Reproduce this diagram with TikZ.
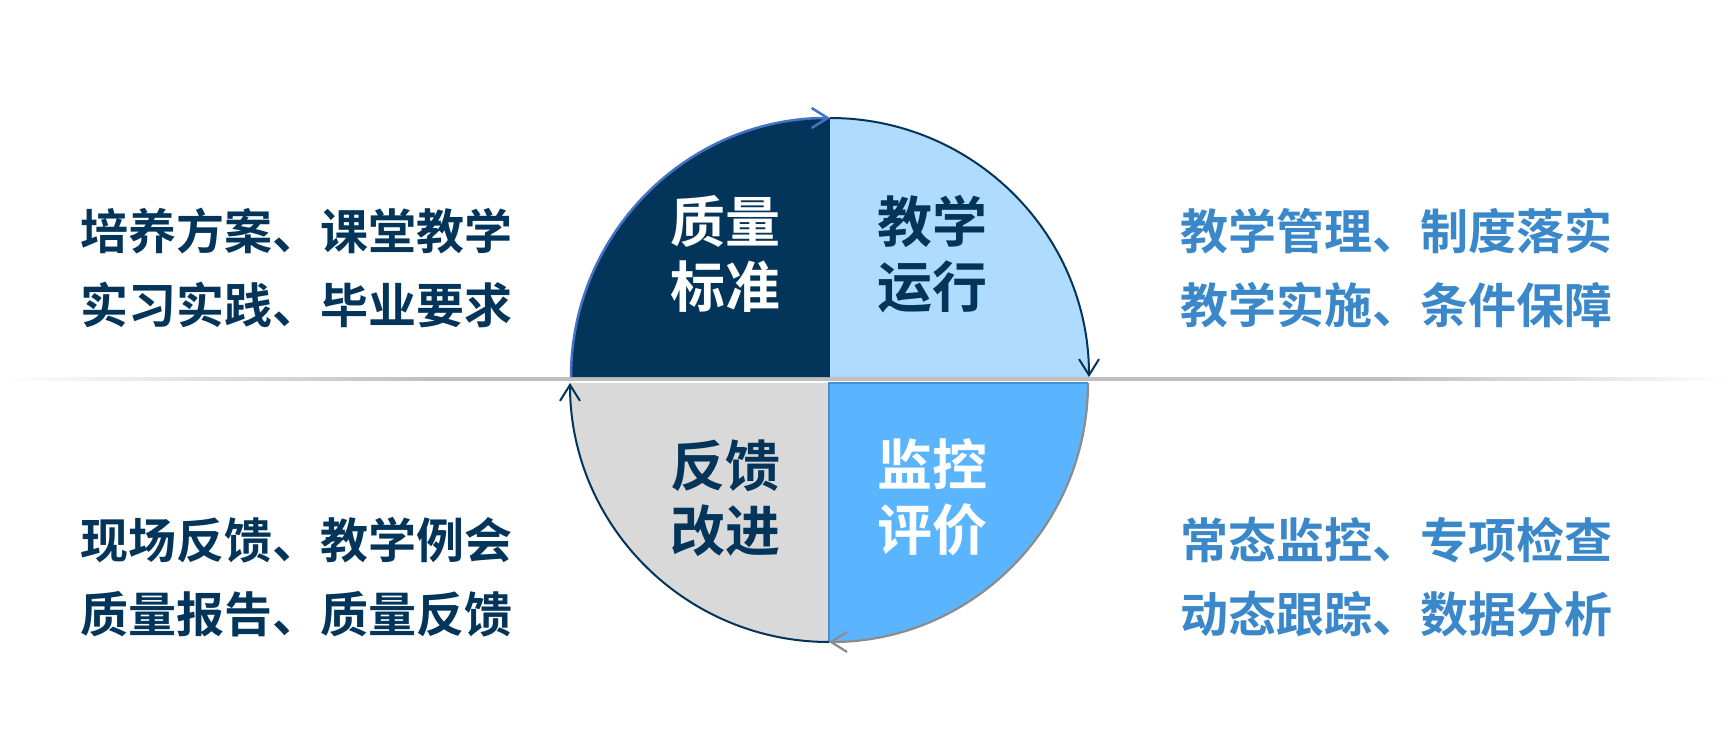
\documentclass[tikz,border=0pt]{standalone}
\usepackage{fontspec}
\newfontfamily\cjk{Noto Sans CJK SC}[BoldFont=* Bold]
\usetikzlibrary{arrows.meta}
\definecolor{navy}{HTML}{03345A}
\definecolor{lightblue}{HTML}{AFDBFF}
\definecolor{midblue}{HTML}{5BB5FE}
\definecolor{qgray}{HTML}{D9D9D9}
\definecolor{rtext}{HTML}{3A88CA}
\definecolor{arcblue}{HTML}{4472C4}
\definecolor{arcgray}{HTML}{8C8C8C}
\definecolor{linegray}{HTML}{BFBFBF}
\definecolor{edgeblue}{HTML}{4A8FCC}
\pgfdeclarehorizontalshading{rulefade}{100bp}{color(0bp)=(white); color(25bp)=(white); color(37.5bp)=(linegray); color(65bp)=(linegray); color(75bp)=(white); color(100bp)=(white)}
\begin{document}
\begin{tikzpicture}[x=0.5pt,y=-0.5pt,
  side/.style={font=\cjk\bfseries\fontsize{24pt}{37pt}\selectfont, align=left, inner sep=0pt, anchor=west},
  quad/.style={font=\cjk\bfseries\fontsize{27.5pt}{32.5pt}\selectfont, align=center, inner sep=0pt},
  tipx/.style={-{Straight Barb[length=8pt,width=10pt]}},
]
\useasboundingbox (0,0) rectangle (1729,738);
\fill[white] (0,0) rectangle (1729,738);
% horizontal rule
\shade[shading=rulefade] (0,377.5) rectangle (1729,380);
% centers and arc end points
\coordinate (ct) at (830,377);
\coordinate (cb) at (829,383);
\coordinate (tl) at (571,377);
\coordinate (tt) at (830,118);
\coordinate (tr) at (1089,377);
\coordinate (br) at (1088,383);
\coordinate (bb) at (829,642);
\coordinate (bl) at (570,383);
% quadrants
\fill[navy] (ct) -- (tl) arc[start angle=180,end angle=270,radius=259] -- cycle;
\fill[lightblue] (ct) -- (tt) arc[start angle=270,end angle=360,radius=259] -- cycle;
\fill[midblue] (cb) -- (br) arc[start angle=0,end angle=90,radius=259] -- cycle;
\fill[qgray] (cb) -- (bb) arc[start angle=90,end angle=180,radius=259] -- cycle;
\draw[edgeblue, line width=0.6pt] (bb) -- (cb) -- (br);
% outline arcs with arrows
\draw[arcblue, line width=1.25pt, tipx] (tl) arc[start angle=180,end angle=270,radius=259];
\draw[navy, line width=1pt, tipx] (tt) arc[start angle=270,end angle=360,radius=259];
\draw[arcgray, line width=1.1pt, tipx] (br) arc[start angle=0,end angle=90,radius=259];
\draw[navy, line width=1pt, tipx] (bb) arc[start angle=90,end angle=180,radius=259];
% quadrant labels
\node[quad, text=white] (q1) at (725,254) {质量\\标准};
\node[quad, text=navy] (q2) at (932,254) {教学\\运行};
\node[quad, text=navy] (q3) at (725,498) {反馈\\改进};
\node[quad, text=white] (q4) at (932,497) {监控\\评价};
% side texts
\node[side, text=navy] (lt) at (80,268) {培养方案、课堂教学\\实习实践、毕业要求};
\node[side, text=rtext] (rt) at (1180,268) {教学管理、制度落实\\教学实施、条件保障};
\node[side, text=navy] (lb) at (80,577) {现场反馈、教学例会\\质量报告、质量反馈};
\node[side, text=rtext] (rb) at (1180,577) {常态监控、专项检查\\动态跟踪、数据分析};
\end{tikzpicture}
\end{document}
